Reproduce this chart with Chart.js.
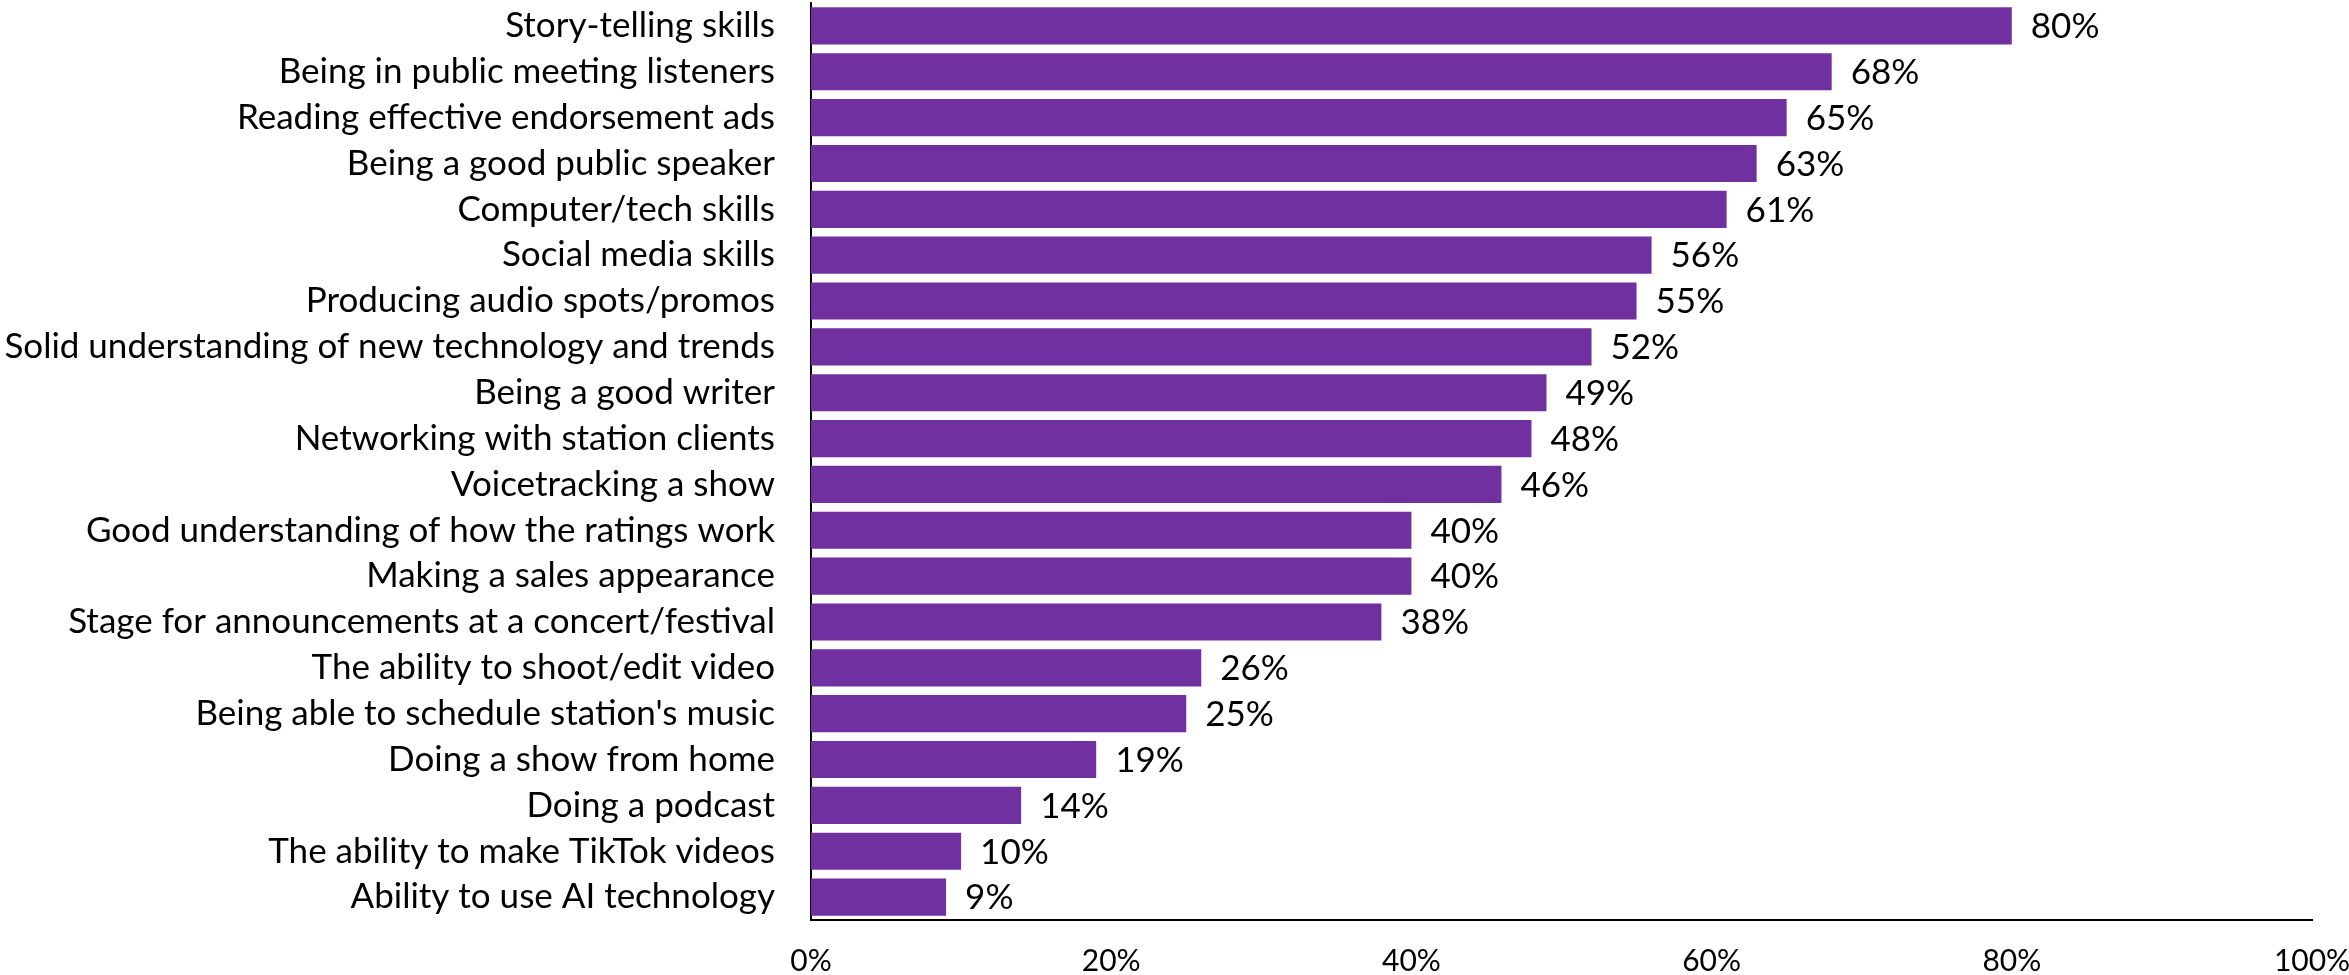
<!DOCTYPE html>
<html>
<head>
<meta charset="utf-8">
<script src="https://cdn.jsdelivr.net/npm/chart.js@4/dist/chart.umd.min.js"></script>
<style>
  html, body { margin: 0; padding: 0; background: #fff; }
  #wrap { width: 2349px; height: 975px; position: relative; }
</style>
</head>
<body>
<div id="wrap"><canvas id="c"></canvas></div>
<script>
// Skills, ordered from most to least cited
const skills = [
  "Story-telling skills",
  "Being in public meeting listeners",
  "Reading effective endorsement ads",
  "Being a good public speaker",
  "Computer/tech skills",
  "Social media skills",
  "Producing audio spots/promos",
  "Solid understanding of new technology and trends",
  "Being a good writer",
  "Networking with station clients",
  "Voicetracking a show",
  "Good understanding of how the ratings work",
  "Making a sales appearance",
  "Stage for announcements at a concert/festival",
  "The ability to shoot/edit video",
  "Being able to schedule station's music",
  "Doing a show from home",
  "Doing a podcast",
  "The ability to make TikTok videos",
  "Ability to use AI technology"
];

// Share of respondents, in percent
const shares = [80, 68, 65, 63, 61, 56, 55, 52, 49, 48, 46, 40, 40, 38, 26, 25, 19, 14, 10, 9];

// Value axis ticks, in percent
const axisTicks = [0, 20, 40, 60, 80, 100];

const FONT = "Lato, 'Open Sans', sans-serif";
const FONT_SIZE = 35;
const TICK_SIZE = 30;
const TEXT = "#000000";
const BAR = "#7030A0";

// Writes each bar's percentage just past its end
const valueLabels = {
  id: "valueLabels",
  afterDatasetsDraw(chart) {
    const { ctx } = chart;
    const meta = chart.getDatasetMeta(0);
    ctx.save();
    ctx.font = FONT_SIZE + "px " + FONT;
    ctx.fillStyle = TEXT;
    ctx.textAlign = "left";
    ctx.textBaseline = "middle";
    meta.data.forEach((bar, i) => {
      ctx.fillText(shares[i] + "%", bar.x + 19, bar.y + 1);
    });
    ctx.restore();
  }
};

new Chart(document.getElementById("c"), {
  type: "bar",
  data: {
    labels: skills,
    datasets: [{
      data: shares,
      backgroundColor: BAR,
      borderWidth: 0,
      categoryPercentage: 1,
      barPercentage: 0.81
    }]
  },
  options: {
    indexAxis: "y",
    responsive: true,
    maintainAspectRatio: false,
    animation: false,
    events: [],
    layout: { padding: { top: 3, right: 37, left: 0, bottom: 0 } },
    plugins: {
      legend: { display: false },
      tooltip: { enabled: false }
    },
    scales: {
      x: {
        min: 0,
        max: 100,
        afterBuildTicks(scale) {
          scale.ticks = axisTicks.map(v => ({ value: v }));
        },
        afterFit(scale) {
          scale.height = 55;
          scale.paddingLeft = 0;
          scale.paddingRight = 0;
        },
        grid: { display: false, drawTicks: false },
        border: { display: true, color: "#000", width: 2 },
        ticks: {
          padding: 23,
          color: TEXT,
          font: { family: FONT, size: TICK_SIZE },
          maxRotation: 0,
          callback: v => v + "%"
        }
      },
      y: {
        afterFit(scale) {
          scale.width = 811;
          scale.paddingTop = 0;
          scale.paddingBottom = 0;
        },
        grid: { display: false, drawTicks: false },
        border: { display: true, color: "#000", width: 2 },
        ticks: {
          padding: 36,
          color: TEXT,
          font: { family: FONT, size: FONT_SIZE },
          autoSkip: false
        }
      }
    }
  },
  plugins: [valueLabels]
});
</script>
</body>
</html>
